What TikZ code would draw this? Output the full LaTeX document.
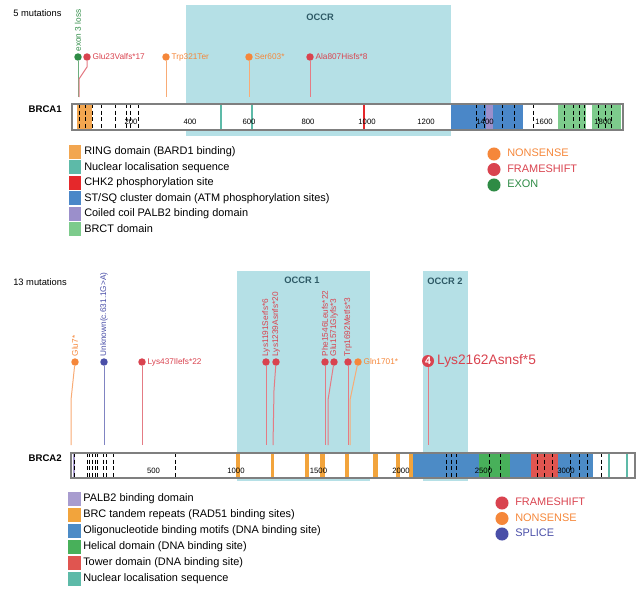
\documentclass[tikz,border=0pt]{standalone}
\usepackage{fontspec}
\setmainfont{Liberation Sans}
\usetikzlibrary{positioning}

\definecolor{occr}{HTML}{B5E0E6}
\definecolor{occrtxt}{HTML}{2E5A66}
\definecolor{nons}{HTML}{F5873A}
\definecolor{frame}{HTML}{D9434F}
\definecolor{exon}{HTML}{2E8B45}
\definecolor{splice}{HTML}{4A4FA8}
\definecolor{ring}{HTML}{F2A650}
\definecolor{nls}{HTML}{5DBAA8}
\definecolor{chk}{HTML}{E5282B}
\definecolor{stsq}{HTML}{4A87C8}
\definecolor{coil}{HTML}{9B8FCB}
\definecolor{brct}{HTML}{7DCB8C}
\definecolor{palb}{HTML}{A89CCF}
\definecolor{brc}{HTML}{F2A43C}
\definecolor{obm}{HTML}{4C8BC6}
\definecolor{heli}{HTML}{48B05A}
\definecolor{tower}{HTML}{E05550}
\definecolor{barline}{HTML}{7F7F7F}

\begin{document}
\begin{tikzpicture}[
    x=0.75pt, y=-0.75pt,
    every node/.style={inner sep=0pt},
    dot/.style={circle, fill=#1, minimum size=5.6pt},
    stem/.style={draw=#1!70, line width=0.75pt},
    mutlab/.style={font=\fontsize{6.2}{7}\selectfont, text=#1, inner sep=1pt},
    vlab/.style={mutlab=#1, rotate=90, anchor=west},
    occrlab/.style={font=\bfseries\fontsize{7}{8}\selectfont, text=occrtxt},
    gene/.style={font=\bfseries\fontsize{7.2}{8}\selectfont, anchor=east},
    count/.style={font=\fontsize{7}{8}\selectfont, anchor=west},
    tick/.style={font=\fontsize{5.8}{7}\selectfont},
    sep/.style={densely dashed, line width=0.5pt},
    keybox/.style={fill=#1, minimum width=9.5pt, minimum height=10.5pt},
    keytext/.style={font=\fontsize{8.2}{9}\selectfont, anchor=west},
    keydot/.style={circle, fill=#1, minimum size=9.8pt},
    keylab/.style={font=\fontsize{8.2}{9}\selectfont, text=#1, anchor=west}
]
\useasboundingbox (0,0) rectangle (641,597);

% ---------------- BRCA1 ----------------
\fill[occr] (186,5) rectangle (451,136);
\node[occrlab] (occr) at (320,17) {OCCR};
\node[count] (n1) at (13,13) {5 mutations};
\node[gene] (g1) at (62,109) {BRCA1};

% protein bar
\fill[white] (72,104) rectangle (623,130);
\fill[ring] (77,104) rectangle (92,130);
\fill[stsq] (451,104) rectangle (523,130);
\fill[coil] (486,104) rectangle (493,130);
\fill[brct] (558,104) rectangle (586,130);
\fill[brct] (592,104) rectangle (621,130);
\draw[nls, line width=1pt] (221,104) -- (221,130);
\draw[nls, line width=2pt] (252,104) -- (252,130);
\draw[chk, line width=0.8pt] (364,104) -- (364,130);
\foreach \x in {79,85,92,101,115,126,130,138,476,484,502,514,533,564,573,579,584,598,605,611}
    \draw[sep] (\x,104) -- (\x,130);
\foreach \n in {200,400,...,1800}
    \node[tick] at ({72+0.295*\n},122) {\n};
\draw[barline, line width=0.8pt] (72,104) rectangle (623,130);

% mutations
\foreach \i/\x in {1/78,2/79,3/166,4/249,5/310}
    \coordinate (b\i) at (\x,97);
\node[dot=exon] (m1) at (78,57) {};
\node[dot=frame] (m2) at (87,57) {};
\node[dot=nons] (m3) at (166,57) {};
\node[dot=nons] (m4) at (249,57) {};
\node[dot=frame] (m5) at (310,57) {};
\draw[stem=exon] (m1) -- (b1);
\draw[stem=frame] (m2) -- (87,67) -- (79,79) -- (b2);
\draw[stem=nons] (m3) -- (b3);
\draw[stem=nons] (m4) -- (b4);
\draw[stem=frame] (m5) -- (b5);
\node[vlab=exon] at (m1.north) {exon 3 loss};
\node[mutlab=frame, right=0pt of m2] {Glu23Valfs*17};
\node[mutlab=nons, right=0pt of m3] {Trp321Ter};
\node[mutlab=nons, right=0pt of m4] {Ser603*};
\node[mutlab=frame, right=0pt of m5] {Ala807Hisfs*8};

% legends
\foreach \c/\t [count=\i from 0] in {ring/{RING domain (BARD1 binding)},
        nls/{Nuclear localisation sequence}, chk/{CHK2 phosphorylation site},
        stsq/{ST/SQ cluster domain (ATM phosphorylation sites)},
        coil/{Coiled coil PALB2 binding domain}, brct/{BRCT domain}} {
    \node[keybox=\c] (ka\i) at (75,{152+15.4*\i}) {};
    \node[keytext] at (84,{152+15.4*\i}) {\t};
}
\foreach \c/\t [count=\i from 0] in {nons/NONSENSE, frame/FRAMESHIFT, exon/EXON} {
    \node[keydot=\c] (ta\i) at (494,{154+15.5*\i}) {};
    \node[keylab=\c] at (507,{153+15.5*\i}) {\t};
}

% ---------------- BRCA2 ----------------
\fill[occr] (237,271) rectangle (370,481);
\fill[occr] (423,271) rectangle (468,481);
\node[occrlab] (occr1) at (302,280) {OCCR 1};
\node[occrlab] (occr2) at (445,281) {OCCR 2};
\node[count] (n2) at (13,282) {13 mutations};
\node[gene] (g2) at (62,458) {BRCA2};

% protein bar
\fill[white] (71,453) rectangle (635,478);
\fill[palb] (72.5,453) rectangle (75,478);
\foreach \a/\b in {236/240,271/274,305/309,320/325,345/349,373/378,396/400,409/413}
    \fill[brc] (\a,453) rectangle (\b,478);
\fill[obm] (413,453) rectangle (593,478);
\fill[heli] (479,453) rectangle (510,478);
\fill[tower] (531,453) rectangle (558,478);
\draw[nls, line width=0.9pt] (609,453) -- (609,478);
\draw[nls, line width=0.9pt] (627,453) -- (627,478);
\foreach \x in {74,87,89.3,92.7,95,97.3,103.3,106.7,113.3,175,446,451,456,489,500,537,544,552,570,579,587,601}
    \draw[sep] (\x,453) -- (\x,478);
\foreach \n in {500,1000,...,3000}
    \node[tick] at ({71+0.165*\n},471) {\n};
\draw[barline, line width=0.8pt] (71,453) rectangle (635,478);

% mutations
\foreach \i/\x in {1/71,2/104,3/142,4/266,5/273,6/325,7/328,8/348,9/350,10/428}
    \coordinate (c\i) at (\x,445);
\node[dot=nons] (p1) at (75,362) {};
\node[dot=splice] (p2) at (104,362) {};
\node[dot=frame] (p3) at (142,362) {};
\node[dot=frame] (p4) at (266,362) {};
\node[dot=frame] (p5) at (276,362) {};
\node[dot=frame] (p6) at (325,362) {};
\node[dot=frame] (p7) at (334,362) {};
\node[dot=frame] (p8) at (348,362) {};
\node[dot=nons] (p9) at (358,362) {};
\node[circle, fill=frame, minimum size=9pt, text=white,
      font=\bfseries\fontsize{8}{9}\selectfont] (p10) at (428,361) {4};
\draw[stem=nons] (p1) -- (71,400) -- (c1);
\draw[stem=splice] (p2) -- (c2);
\draw[stem=frame] (p3) -- (c3);
\draw[stem=frame] (p4) -- (c4);
\draw[stem=frame] (p5) -- (274,390) -- (c5);
\draw[stem=frame] (p6) -- (c6);
\draw[stem=frame] (p7) -- (328,400) -- (c7);
\draw[stem=frame] (p8) -- (c8);
\draw[stem=nons] (p9) -- (350,400) -- (c9);
\draw[stem=frame] (p10) -- (c10);
\node[vlab=nons] at (p1.north) {Glu7*};
\node[vlab=splice] at (p2.north) {Unknown(c.631.1G>A)};
\node[mutlab=frame, right=0pt of p3] {Lys437Ilefs*22};
\node[vlab=frame] at (p4.north) {Lys1191Serfs*6};
\node[vlab=frame] at (p5.north) {Lys1239Asnfs*20};
\node[vlab=frame] at (p6.north) {Phe1546Leufs*22};
\node[vlab=frame] at (p7.north) {Glu1571Glyfs*3};
\node[vlab=frame] at (p8.north) {Trp1692Metfs*3};
\node[mutlab=nons, right=0pt of p9] {Gln1701*};
\node[mutlab=frame, font=\fontsize{10.3}{12}\selectfont, right=1pt of p10] {Lys2162Asnsf*5};

% legends
\foreach \c/\t [count=\i from 0] in {palb/{PALB2 binding domain},
        brc/{BRC tandem repeats (RAD51 binding sites)},
        obm/{Oligonucleotide binding motifs (DNA binding site)},
        heli/{Helical domain (DNA binding site)},
        tower/{Tower domain (DNA binding site)},
        nls/{Nuclear localisation sequence}} {
    \node[keybox=\c] (kb\i) at (74.5,{499+16*\i}) {};
    \node[keytext] at (83,{499+16*\i}) {\t};
}
\foreach \c/\t [count=\i from 0] in {frame/FRAMESHIFT, nons/NONSENSE, splice/SPLICE} {
    \node[keydot=\c] (tb\i) at (502,{503+15.5*\i}) {};
    \node[keylab=\c] at (515,{502+15.5*\i}) {\t};
}
\end{tikzpicture}
\end{document}
